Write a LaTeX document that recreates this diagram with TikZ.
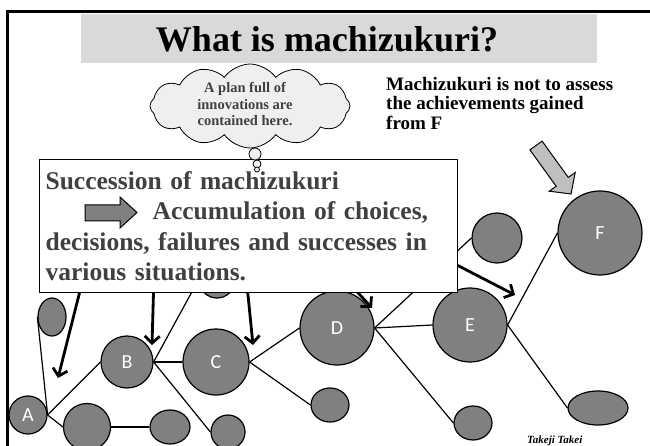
\documentclass[tikz,border=0pt]{standalone}
\usepackage{fontspec}
\setmainfont{Liberation Serif}
\newfontfamily\calib{Carlito}
\usepackage{tikz}
\usetikzlibrary{shapes,shapes.geometric,shapes.symbols,arrows.meta,calc}
\definecolor{nodegray}{HTML}{808080}
\definecolor{titlegray}{HTML}{D9D9D9}
\definecolor{cloudgray}{HTML}{EFEFEF}
\definecolor{textgray}{HTML}{404040}
\definecolor{arrowgray}{HTML}{BFBFBF}

\begin{document}
\begin{tikzpicture}[x=1pt,y=-1pt,>={Straight Barb[length=7pt,width=15pt]},
bub/.style={draw,circle,fill=nodegray,line width=1.2pt,inner sep=0pt,text=white,font=\calib\fontsize{20}{20}\selectfont},
blob/.style={draw,ellipse,fill=nodegray,line width=1.2pt,inner sep=0pt},
link/.style={line width=1.2pt},
pointer/.style={->,line width=2.8pt},
puff/.style={draw,circle,fill=cloudgray,line width=0.8pt,inner sep=0pt}]

\useasboundingbox (0,0) rectangle (650,446);

% title
\node[fill=titlegray,minimum width=516pt,minimum height=49pt,inner sep=0pt,anchor=north west] (titlebar) at (81,14) {};
\node[inner sep=0pt,font=\bfseries\fontsize{36}{36}\selectfont] (title) at (327,39) {What is machizukuri?};

% situations
\node[bub,minimum size=38pt] (A) at (28,415) {A};
\node[bub,minimum size=52pt] (B) at (127,362) {B};
\node[bub,minimum size=66pt] (C) at (216,362) {C};
\node[bub,minimum size=74pt] (D) at (337,328) {D};
\node[bub,minimum size=74pt] (E) at (470,325) {E};
\node[bub,minimum size=84pt] (F) at (600,233) {F};
\node[blob,minimum width=28pt,minimum height=38pt] (la) at (52,317) {};
\node[bub,minimum size=47pt] (ab) at (87,427) {};
\node[blob,minimum width=40pt,minimum height=34pt] (ae) at (170,427) {};
\node[bub,minimum size=34pt] (bs) at (228,432) {};
\node[bub,minimum size=36pt] (hid) at (217,280) {};
\node[blob,minimum width=38pt,minimum height=34pt] (cs) at (330,405) {};
\node[bub,minimum size=50pt] (dk) at (497,238) {};
\node[blob,minimum width=38pt,minimum height=34pt] (ds) at (473,423) {};
\node[blob,minimum width=60pt,minimum height=34pt] (es) at (598,408) {};

% branches
\draw[link] (A.east) -- (la.west);
\draw[link] (A.east) -- (B.west);
\draw[link] (A.east) -- (ab.west);
\draw[link] (ab.east) -- (ae.west);
\draw[link] (B.east) -- (C.west);
\draw[link] (B.east) -- (hid.west);
\draw[link] (B.east) -- (bs.west);
\draw[link] (C.east) -- (D.west);
\draw[link] (C.east) -- (cs.west);
\draw[link] (D.east) -- (E.west);
\draw[link] (D.east) -- (dk.west);
\draw[link] (D.east) -- (ds.west);
\draw[link] (E.east) -- (F.west);
\draw[link] (E.east) -- (es.west);

% choices
\coordinate (s1) at (84,275);  \coordinate (t1) at (58,378);
\coordinate (s2) at (154,275); \coordinate (t2) at (152,345);
\coordinate (s3) at (246,275); \coordinate (t3) at (253,345);
\coordinate (s4) at (337,270); \coordinate (t4) at (372,308);
\coordinate (s5) at (420,246); \coordinate (t5) at (515,295);
\foreach \i in {1,...,5}
  \draw[pointer] (s\i) -- (t\i);

% message
\node[draw,fill=white,line width=1.2pt,anchor=north west,text width=406pt,inner xsep=6pt,inner ysep=10pt,minimum height=133pt,text=textgray,align=left,font=\bfseries\fontsize{25.5}{30.5}\selectfont] (msg) at (39,159) {Succession of machizukuri\\\hspace*{107pt}Accumulation of choices,\\decisions, failures and successes in\\various situations.};
\draw[fill=nodegray,line width=1pt] (85,205) -- (120,205) -- (120,197) -- (137,212.5) -- (120,228) -- (120,221) -- (85,221) -- cycle;

% thought
\node[cloud,cloud puffs=12,cloud puff arc=110,cloud ignores aspect,draw,fill=cloudgray,line width=0.8pt,minimum width=200pt,minimum height=84pt,inner sep=0pt] (idea) at (250,106) {};
\node[text=textgray,align=center,inner sep=0pt,font=\bfseries\fontsize{14.5}{16.5}\selectfont] (ideatext) at (245,104) {A plan full of\\innovations are\\contained here.};
\node[puff,minimum size=12pt] (p1) at (255,154) {};
\node[puff,minimum size=8pt] (p2) at (257,164) {};
\node[puff,minimum size=5pt] (p3) at (257,169.5) {};

% note on F
\node[anchor=north west,align=left,inner sep=0pt,font=\bfseries\fontsize{19}{19.5}\selectfont] (note) at (386,77) {Machizukuri is not to assess\\the achievements gained\\from F};
\coordinate (ft) at (536,145.5);
\coordinate (fh) at (571,194);
\coordinate (fn) at ($(fh)!15pt!(ft)$);
\draw[fill=arrowgray,line width=1pt] ($(ft)!7.5pt!90:(fh)$) -- ($(fn)!7.5pt!90:(fh)$) -- ($(fn)!16pt!90:(fh)$) -- (fh) -- ($(fn)!16pt!-90:(fh)$) -- ($(fn)!7.5pt!-90:(fh)$) -- ($(ft)!7.5pt!-90:(fh)$) -- cycle;

% frame
\draw[line width=3pt] (7,460) -- (7,12) -- (660,12);
\node[anchor=base west,inner sep=0pt,font=\bfseries\itshape\fontsize{11}{11}\selectfont] (sign) at (527,443) {Takeji Takei};
\end{tikzpicture}
\end{document}
